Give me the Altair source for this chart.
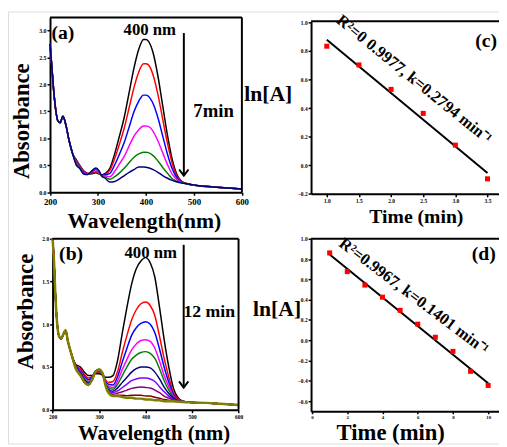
import altair as alt
import pandas as pd

FONT = "Liberation Serif"

# ---------------- Panel (a): UV-vis spectra, 7 min ----------------
wl_a_uv = [200, 204, 208, 212, 216, 221, 227, 233, 240, 247]
abs_a_uv = [2.75, 2.3, 1.85, 1.52, 1.33, 1.29, 1.41, 1.25, 0.95, 0.72]
wl_a = [255, 262, 270, 278, 285, 291, 296, 302, 308,
        315, 325, 335, 345, 355, 365, 375, 385, 395,
        400, 405, 415, 425, 435, 445, 455, 465, 475]
a_black = [0.6, 0.5, 0.4, 0.35, 0.34, 0.35, 0.36, 0.34, 0.32,
           0.35, 0.45, 0.72, 1.05, 1.4, 1.85, 2.3, 2.65, 2.83,
           2.83, 2.8, 2.58, 2.15, 1.6, 1.05, 0.6, 0.32, 0.2]
a_red = [0.58, 0.49, 0.39, 0.35, 0.35, 0.37, 0.38, 0.35, 0.31,
         0.33, 0.41, 0.63, 0.9, 1.2, 1.57, 1.94, 2.23, 2.38,
         2.38, 2.36, 2.17, 1.81, 1.35, 0.9, 0.53, 0.29, 0.2]
a_blue = [0.56, 0.47, 0.37, 0.34, 0.36, 0.4, 0.42, 0.38, 0.31,
          0.32, 0.35, 0.51, 0.71, 0.93, 1.21, 1.49, 1.69, 1.8,
          1.8, 1.78, 1.64, 1.38, 1.04, 0.7, 0.43, 0.26, 0.19]
a_magenta = [0.55, 0.46, 0.36, 0.34, 0.37, 0.41, 0.43, 0.38, 0.3,
             0.3, 0.29, 0.39, 0.53, 0.67, 0.86, 1.04, 1.16, 1.23,
             1.23, 1.22, 1.13, 0.95, 0.73, 0.51, 0.33, 0.23, 0.18]
a_green = [0.53, 0.45, 0.35, 0.33, 0.37, 0.42, 0.44, 0.39, 0.29,
           0.28, 0.24, 0.29, 0.36, 0.45, 0.55, 0.65, 0.71, 0.74,
           0.74, 0.735, 0.68, 0.58, 0.46, 0.35, 0.25, 0.2, 0.175]
a_navy = [0.5, 0.44, 0.34, 0.33, 0.38, 0.43, 0.45, 0.4, 0.3,
          0.26, 0.19, 0.2, 0.25, 0.31, 0.37, 0.42, 0.47, 0.47,
          0.465, 0.455, 0.42, 0.37, 0.31, 0.26, 0.22, 0.19, 0.17]
wl_a_tail = [490, 510, 540, 570, 600]
abs_a_tail = [0.15, 0.12, 0.1, 0.08, 0.06]
names_a = ["a0", "a1", "a2", "a3", "a4", "a5"]
colors_a = ["#000000", "#ff0000", "#0000ff", "#ff00ff", "#008000", "#000080"]

# ---------------- Panel (b): UV-vis spectra, 12 min ----------------
wl_b_uv = [200, 203, 206, 210, 214, 218, 223, 228, 233, 240]
abs_b_uv = [2.0, 1.75, 1.35, 1.0, 0.86, 0.83, 0.88, 0.93, 0.8, 0.66]
wl_b = [250, 260, 270, 277, 285, 292, 300, 308, 314,
        320, 330, 340, 350, 360, 370, 380, 390, 400,
        410, 420, 430, 440, 450, 460, 470, 480]
b_black = [0.53, 0.5, 0.43, 0.4, 0.4, 0.42, 0.42, 0.4, 0.38,
           0.38, 0.40, 0.58, 0.9, 1.2, 1.47, 1.65, 1.74, 1.78,
           1.72, 1.55, 1.2, 0.82, 0.5, 0.25, 0.14, 0.1]
b_red = [0.52, 0.48, 0.4, 0.37, 0.39, 0.43, 0.44, 0.41, 0.35,
         0.32, 0.33, 0.45, 0.67, 0.87, 1.05, 1.17, 1.24, 1.26,
         1.22, 1.10, 0.86, 0.6, 0.38, 0.2, 0.13, 0.1]
b_blue = [0.51, 0.46, 0.38, 0.35, 0.38, 0.44, 0.45, 0.41, 0.33,
          0.3, 0.29, 0.39, 0.56, 0.72, 0.87, 0.96, 1.01, 1.03,
          1.0, 0.9, 0.71, 0.5, 0.32, 0.18, 0.12, 0.1]
b_magenta = [0.5, 0.45, 0.36, 0.33, 0.37, 0.45, 0.46, 0.41, 0.31,
             0.28, 0.26, 0.34, 0.47, 0.59, 0.70, 0.77, 0.81, 0.82,
             0.80, 0.72, 0.57, 0.40, 0.27, 0.16, 0.115, 0.095]
b_green = [0.5, 0.44, 0.35, 0.32, 0.36, 0.45, 0.46, 0.41, 0.3,
           0.26, 0.24, 0.30, 0.40, 0.50, 0.59, 0.64, 0.67, 0.68,
           0.66, 0.60, 0.48, 0.34, 0.23, 0.15, 0.11, 0.095]
b_navy = [0.5, 0.43, 0.34, 0.31, 0.36, 0.45, 0.47, 0.42, 0.3,
          0.24, 0.215, 0.256, 0.32, 0.38, 0.44, 0.48, 0.50, 0.50,
          0.49, 0.44, 0.36, 0.265, 0.19, 0.135, 0.105, 0.09]
b_violet = [0.49, 0.42, 0.33, 0.3, 0.35, 0.45, 0.47, 0.42, 0.29,
            0.23, 0.2, 0.22, 0.26, 0.3, 0.34, 0.36, 0.37, 0.37,
            0.36, 0.33, 0.27, 0.21, 0.16, 0.12, 0.1, 0.09]
b_purple = [0.49, 0.41, 0.32, 0.3, 0.35, 0.44, 0.47, 0.42, 0.29,
            0.215, 0.18, 0.195, 0.21, 0.23, 0.25, 0.26, 0.265, 0.26,
            0.255, 0.23, 0.2, 0.16, 0.135, 0.11, 0.1, 0.09]
b_wine = [0.48, 0.41, 0.31, 0.29, 0.35, 0.44, 0.47, 0.42, 0.29,
          0.205, 0.165, 0.17, 0.17, 0.165, 0.17, 0.17, 0.17, 0.16,
          0.16, 0.145, 0.135, 0.12, 0.11, 0.1, 0.095, 0.09]
b_olive = [0.48, 0.4, 0.31, 0.29, 0.35, 0.44, 0.47, 0.42, 0.28,
           0.2, 0.16, 0.16, 0.15, 0.14, 0.14, 0.13, 0.13, 0.12,
           0.12, 0.11, 0.11, 0.1, 0.1, 0.1, 0.095, 0.09]
wl_b_tail = [500, 530, 560, 600]
abs_b_tail = [0.085, 0.08, 0.07, 0.055]
names_b = ["b0", "b1", "b2", "b3", "b4", "b5", "b6", "b7", "b8"]
colors_b = ["#000000", "#ff0000", "#0000ff", "#ff00ff", "#008000",
            "#000080", "#8000ff", "#800080", "#800000"]
olive_color = "#808000"

# ---------------- Panel (c): kinetics 7 min ----------------
time_c = [1.0, 1.5, 2.0, 2.5, 3.0, 3.5]
lnA_c = [0.833, 0.702, 0.531, 0.363, 0.141, -0.095]
fit_c_t = [1.0, 3.5]
fit_c_y = [0.878, -0.054]

# ---------------- Panel (d): kinetics 12 min ----------------
time_d = [1, 2, 3, 4, 5, 6, 7, 8, 9, 10]
lnA_d = [0.861, 0.677, 0.544, 0.425, 0.295, 0.159, 0.030, -0.109, -0.306, -0.445]
fit_d_t = [1, 10]
fit_d_y = [0.845, -0.423]

# canvas (svg) size; every panel gets its own pixel range inside it
W, H = 499, 439


def spectra_df(names, curves, wl_uv, abs_uv, wl_mid, wl_tail, abs_tail):
    rows = []
    for name, mid in zip(names, curves):
        for w, v in zip(wl_uv + wl_mid + wl_tail, abs_uv + mid + abs_tail):
            rows.append({"series": name, "wl": w, "abs": v})
    return pd.DataFrame(rows)


df_a = spectra_df(names_a, [a_black, a_red, a_blue, a_magenta, a_green, a_navy],
                  wl_a_uv, abs_a_uv, wl_a, wl_a_tail, abs_a_tail)
df_b = spectra_df(names_b, [b_black, b_red, b_blue, b_magenta, b_green, b_navy,
                            b_violet, b_purple, b_wine],
                  wl_b_uv, abs_b_uv, wl_b, wl_b_tail, abs_b_tail)
df_b_olive = spectra_df(["olive"], [b_olive], wl_b_uv, abs_b_uv, wl_b, wl_b_tail, abs_b_tail)
df_c = pd.DataFrame({"t": time_c, "y": lnA_c})
df_c_fit = pd.DataFrame({"t": fit_c_t, "y": fit_c_y})
df_d = pd.DataFrame({"t": time_d, "y": lnA_d})
df_d_fit = pd.DataFrame({"t": fit_d_t, "y": fit_d_y})


def common_axis(tick_size=3, **kw):
    return alt.Axis(grid=False, labelOverlap=False, labelFlush=False,
                    labelFont=FONT, labelFontWeight="bold", labelColor="black",
                    tickColor="black", tickWidth=1.5, tickSize=tick_size,
                    domainColor="black", domainWidth=2,
                    titleFont=FONT, titleFontWeight="bold", titleColor="black",
                    titleAlign="center", titleBaseline="alphabetic", **kw)


def x_axis(values, fmt, lsize, title, tsize, tx, ty, axis_y, pad=2, tick_size=3):
    return common_axis(tick_size=tick_size, orient="bottom", offset=axis_y - H,
                       values=values, format=fmt,
                       labelFontSize=lsize, labelPadding=pad, title=title,
                       titleFontSize=tsize, titleX=tx, titleY=ty)


def y_axis(values, fmt, lsize, title, tsize, tx, ty, angle, axis_x):
    return common_axis(orient="left", offset=-axis_x, values=values, format=fmt,
                       labelFontSize=lsize, labelPadding=1, title=title,
                       titleFontSize=tsize, titleX=tx, titleY=ty, titleAngle=angle)


def label(text, x, y, size, align="center", angle=0):
    return alt.Chart().mark_text(text=text, font=FONT, fontWeight="bold",
                                 fontSize=size, color="black", align=align,
                                 baseline="alphabetic", angle=angle).encode(
        x=alt.datum(x), y=alt.datum(y))


def arrow(x, y_top, y_tip):
    shaft = alt.Chart().mark_rule(color="black", strokeWidth=2).encode(
        x=alt.datum(x), y=alt.datum(y_top), y2=alt.datum(y_tip))
    head = alt.Chart().mark_point(shape="M-1,-1.3L0,0L1,-1.3", filled=False,
                                  color="black", strokeWidth=2, opacity=1,
                                  size=90).encode(x=alt.datum(x), y=alt.datum(y_tip))
    return shaft + head


def frame(x0, x1, y0, y1, right=True):
    top = alt.Chart().mark_rule(color="black", strokeWidth=2).encode(
        x=alt.datum(x0), x2=alt.datum(x1), y=alt.datum(y1))
    if right:
        rgt = alt.Chart().mark_rule(color="black", strokeWidth=2).encode(
            x=alt.datum(x1), y=alt.datum(y0), y2=alt.datum(y1))
        return top + rgt
    return top


# ---- panel (a)  plot box: x 42.7..237.7, y 6..183.7 (svg px)
lines_a = alt.Chart(df_a).mark_line(strokeWidth=1.5, interpolate="monotone").encode(
    x=alt.X("wl:Q", scale=alt.Scale(domain=[200, 600], range=[42.7, 237.7], nice=False, zero=False),
            axis=x_axis([200, 300, 400, 500, 600], "d", 9, "Wavelength(nm)", 22, 138, 36, 183.7)),
    y=alt.Y("abs:Q", scale=alt.Scale(domain=[0, 3.24], range=[183.7, 6], nice=False, zero=False),
            axis=y_axis([0, 0.5, 1.0, 1.5, 2.0, 2.5, 3.0], ".1f", 6, "Absorbance", 23,
                        -22, 111, -90, 42.7)),
    color=alt.Color("series:N", scale=alt.Scale(domain=names_a, range=colors_a), legend=None),
    detail="series:N",
)
panel_a = alt.layer(
    lines_a, frame(200, 600, 0, 3.24),
    label("(a)", 203, 2.84, 20, align="left"),
    label("400 nm", 408, 2.91, 17),
    label("7min", 541, 1.40, 19),
    arrow(479, 2.95, 0.31),
)

# ---- panel (b)  plot box: x 45.3..234.3, y 231..404.7
lines_b = alt.Chart(df_b).mark_line(strokeWidth=1.5, interpolate="monotone").encode(
    x=alt.X("wl:Q", scale=alt.Scale(domain=[200, 600], range=[45.3, 234.3], nice=False, zero=False),
            axis=x_axis([200, 300, 400, 500, 600], "d", 5.5, "Wavelength (nm)", 21, 148, 30, 404.7)),
    y=alt.Y("abs:Q", scale=alt.Scale(domain=[0, 2.0], range=[404.7, 231], nice=False, zero=False),
            axis=y_axis([0, 0.5, 1.0, 1.5, 2.0], ".1f", 5.5, "Absorbance", 23,
                        -20, 304.5, -90, 45.3)),
    color=alt.Color("series:N", scale=alt.Scale(domain=names_b, range=colors_b), legend=None),
    detail="series:N",
)
olive_b = alt.Chart(df_b_olive).mark_line(strokeWidth=2.5, interpolate="monotone",
                                          color=olive_color).encode(x="wl:Q", y="abs:Q")
panel_b = alt.layer(
    lines_b, olive_b, frame(200, 600, 0, 2.0),
    label("(b)", 214, 1.75, 20, align="left"),
    label("400 nm", 411, 1.78, 17),
    label("12 min", 537, 1.08, 18),
    arrow(482, 1.93, 0.26),
)

# ---- panel (c)  plot box: x 308..(beyond right edge), y 10..185.3
pts_c = alt.Chart(df_c).mark_square(size=26, color="#ff0000", opacity=1).encode(
    x=alt.X("t:Q", scale=alt.Scale(domain=[0.755, 3.8], range=[308, 506.9], nice=False, zero=False),
            axis=x_axis([1.0, 1.5, 2.0, 2.5, 3.0, 3.5], ".1f", 5.5, "Time (min)", 20, 414.5, 28.7, 185.3)),
    y=alt.Y("y:Q", scale=alt.Scale(domain=[-0.2, 1.007], range=[185.3, 10], nice=False, zero=False),
            axis=y_axis([-0.2, 0.0, 0.2, 0.4, 0.6, 0.8, 1.0], ".1f", 5.5, "ln[A]", 22,
                        -44, 90, 0, 308)),
)
fit_c = alt.Chart(df_c_fit).mark_line(color="black", strokeWidth=2).encode(x="t:Q", y="y:Q")
panel_c = alt.layer(
    fit_c, pts_c, frame(0.755, 3.8, -0.2, 1.007, right=False),
    label("R\u00b2=0 0.9977, k=0.2794 min\u207b\u00b9", 2.31, 0.574, 16.5, angle=39),
    label("(c)", 3.48, 0.83, 20),
)

# ---- panel (d)  plot box: x 308..(beyond right edge), y 231..406.3
pts_d = alt.Chart(df_d).mark_square(size=26, color="#ff0000", opacity=1).encode(
    x=alt.X("t:Q", scale=alt.Scale(domain=[-0.056, 11.0], range=[308, 505.9], nice=False, zero=False),
            axis=x_axis([0, 2, 4, 6, 8, 10], "d", 5, "Time (min)", 23, 388.5, 28.7, 406.3,
                        pad=1, tick_size=2.5)),
    y=alt.Y("y:Q", scale=alt.Scale(domain=[-0.7, 1.0], range=[406.3, 231], nice=False, zero=False),
            axis=y_axis([-0.6, -0.4, -0.2, 0.0, 0.2, 0.4, 0.6, 0.8, 1.0], ".1f", 5.5,
                        "ln[A]", 22, -35, 309, 0, 308)),
)
fit_d = alt.Chart(df_d_fit).mark_line(color="black", strokeWidth=2).encode(x="t:Q", y="y:Q")
panel_d = alt.layer(
    fit_d, pts_d, frame(-0.056, 11.0, -0.7, 1.0, right=False),
    label("R\u00b2=0.9967, k=0.1401 min\u207b\u00b9", 5.61, 0.394, 16.5, angle=37),
    label("(d)", 9.75, 0.79, 20),
)

chart = alt.layer(panel_a, panel_b, panel_c, panel_d).resolve_scale(
    x="independent", y="independent", color="independent"
).resolve_axis(
    x="independent", y="independent"
).properties(
    width=W, height=H, padding=0,
    autosize=alt.AutoSizeParams(type="none"),
).configure_view(stroke=None).configure(background="white")

chart.save("out.html", embed_options={"renderer": "svg", "actions": False})
